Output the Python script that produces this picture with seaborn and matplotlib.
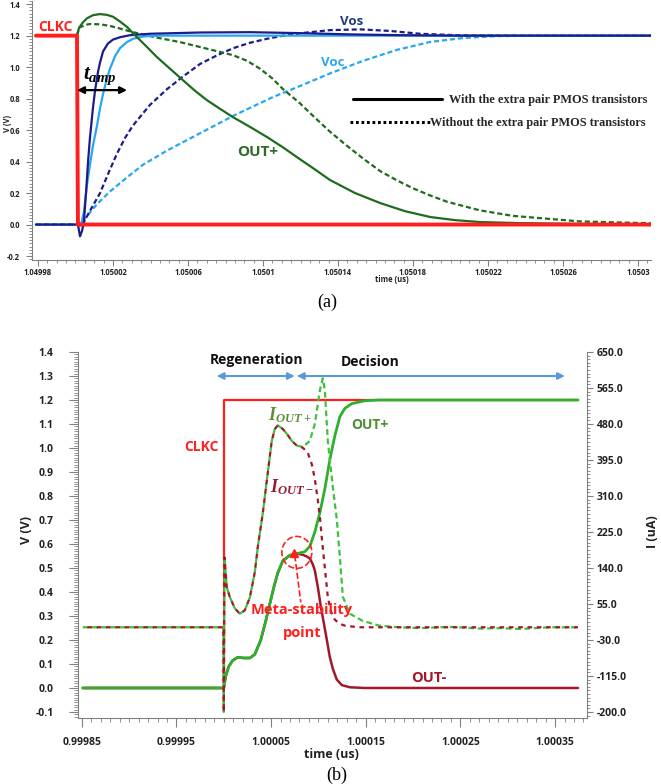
import matplotlib
matplotlib.use('Agg')
import matplotlib.pyplot as plt
import matplotlib.ticker as mticker
from matplotlib.lines import Line2D
from matplotlib.patches import Ellipse
import numpy as np
import pandas as pd
import seaborn as sns

# ---------------- panel (a): time as ps after 1.04998 us, values in V ----------------
BASE_A = 1.04998
clkc_a_ps = [-1.1, 20.8, 21.3, 326.9]
clkc_a_v = [1.2, 1.2, 0.0, 0.0]

outp_a_ps = [20.8, 21.9, 24.0, 26.1, 29.3, 33.1, 36.8, 40.0, 43.7, 47.5, 50.7, 57.1, 63.5, 70.4, 77.3,
             83.7, 90.1, 97.1, 104.0, 113.1, 122.1, 130.7, 139.7, 147.7, 155.7, 169.1, 182.4, 195.7,
             209.1, 222.4, 235.7, 257.1, 289.1, 326.9]
outp_a_v = [1.2, 1.25, 1.285, 1.31, 1.33, 1.337, 1.332, 1.32, 1.29, 1.255, 1.215, 1.14, 1.063, 0.99, 0.917,
            0.85, 0.79, 0.735, 0.682, 0.62, 0.556, 0.49, 0.415, 0.35, 0.283, 0.2, 0.137, 0.085,
            0.048, 0.028, 0.016, 0.009, 0.004, 0.002]

outp_a_nopmos_ps = [20.8, 21.9, 25.1, 27.7, 33.1, 38.4, 43.7, 50.7, 62.4, 75.7, 89.1, 104.0, 111.5, 118.4,
                    124.8, 130.7, 139.7, 146.7, 155.7, 164.8, 173.3, 182.4, 191.5, 200.0, 209.1, 218.1,
                    235.7, 253.3, 289.1, 326.9]
outp_a_nopmos_v = [1.2, 1.25, 1.268, 1.274, 1.272, 1.262, 1.245, 1.222, 1.19, 1.159, 1.12, 1.076, 1.04, 0.99,
                   0.93, 0.86, 0.77, 0.69, 0.59, 0.50, 0.42, 0.34, 0.28, 0.23, 0.185, 0.145,
                   0.09, 0.055, 0.02, 0.008]

vos_a_ps = [-1.1, 21.3, 22.4, 23.5, 24.5, 25.6, 26.7, 27.7, 29.3, 30.4, 32.0, 33.1, 34.7, 37.3, 40.0,
            43.7, 49.1, 59.7, 86.4, 113.1, 139.7, 166.4, 193.1, 225.1, 326.9]
vos_a_v = [0, 0, -0.075, -0.04, 0.02, 0.2, 0.4, 0.55, 0.74, 0.85, 0.97, 1.03, 1.1, 1.15, 1.175,
           1.19, 1.203, 1.212, 1.22, 1.222, 1.216, 1.208, 1.203, 1.2, 1.2]

voc_a_ps = [-1.1, 21.3, 22.9, 24.5, 26.1, 27.7, 29.3, 31.5, 33.1, 34.7, 36.8, 38.4, 41.1, 43.7, 47.5,
            50.7, 56.0, 65.1, 326.9]
voc_a_v = [0, 0, 0.0, 0.08, 0.25, 0.38, 0.5, 0.63, 0.74, 0.83, 0.93, 0.99, 1.07, 1.12, 1.16,
           1.18, 1.195, 1.2, 1.2]

vos_a_nopmos_ps = [-1.1, 21.3, 23.5, 25.1, 28.8, 33.1, 37.3, 42.1, 46.4, 50.7, 59.7, 68.8, 77.3, 86.4,
                   95.5, 104.0, 113.1, 122.1, 130.7, 139.7, 155.7, 171.7, 187.7, 203.7, 225.1, 257.1, 326.9]
vos_a_nopmos_v = [0, 0, -0.01, 0.03, 0.11, 0.2, 0.32, 0.45, 0.55, 0.63, 0.76, 0.86, 0.94, 1.02,
                  1.075, 1.12, 1.155, 1.18, 1.2, 1.215, 1.235, 1.24, 1.23, 1.212, 1.202, 1.2, 1.2]

voc_a_nopmos_ps = [-1.1, 21.3, 25.1, 31.5, 38.4, 47.5, 56.0, 68.8, 86.4, 104.0, 125.3, 139.7, 155.7, 173.3,
                   191.5, 209.1, 226.7, 244.8, 267.7, 326.9]
voc_a_nopmos_v = [0, 0, 0.04, 0.13, 0.21, 0.3, 0.38, 0.47, 0.58, 0.69, 0.81, 0.88, 0.96, 1.04,
                  1.11, 1.16, 1.185, 1.197, 1.2, 1.2]

xticks_a = [1.04998, 1.05002, 1.05006, 1.0501, 1.05014, 1.05018, 1.05022, 1.05026, 1.0503]
xlabels_a = ['1.04998', '1.05002', '1.05006', '1.0501', '1.05014', '1.05018', '1.05022', '1.05026', '1.0503']
yticks_a = [-0.2, 0.0, 0.2, 0.4, 0.6, 0.8, 1.0, 1.2, 1.4]

# ---------------- panel (b): time as ps after 1.0 us, V on left, uA on right ----------------
BASE_B = 1.0
clkc_b_ps = [-149, 0, 0, 374.2]
clkc_b_v = [0, 0, 1.2, 1.2]

outp_b_ps = [-149, 0, 2.1, 5.3, 9.5, 14.8, 21.1, 27.5, 32.8, 39.1, 44.4, 48.6, 52.9, 57.1, 62.4, 69.8,
             77.2, 85.6, 90.9, 96.2, 101.5, 106.8, 112.0, 117.3, 122.6, 127.9, 135.3, 149.0, 164.9, 374.2]
outp_b_v = [0, 0, 0.05, 0.09, 0.115, 0.128, 0.125, 0.125, 0.14, 0.2, 0.28, 0.35, 0.42, 0.48, 0.53, 0.553,
            0.56, 0.568, 0.59, 0.65, 0.73, 0.83, 0.95, 1.05, 1.13, 1.165, 1.185, 1.197, 1.2, 1.2]

outn_b_ps = [-149, 0, 2.1, 5.3, 9.5, 14.8, 21.1, 27.5, 32.8, 39.1, 44.4, 48.6, 52.9, 57.1, 62.4, 69.8,
             77.2, 83.5, 87.7, 90.9, 94.1, 96.2, 99.4, 102.5, 105.7, 108.9, 112.0, 115.2, 119.4, 124.7,
             133.2, 149.0, 374.2]
outn_b_v = [0, 0, 0.05, 0.09, 0.115, 0.128, 0.125, 0.125, 0.14, 0.2, 0.28, 0.35, 0.42, 0.48, 0.53, 0.553,
            0.56, 0.555, 0.548, 0.54, 0.515, 0.49, 0.42, 0.34, 0.27, 0.2, 0.13, 0.08, 0.035, 0.012,
            0.003, 0.0, 0.0]

ioutp_ps = [-149, -0.5, 0, 0.8, 3.2, 6.3, 11.6, 16.9, 22.2, 27.5, 32.8, 35.9, 41.2, 45.5, 50.7, 53.9,
            57.1, 62.4, 66.6, 71.9, 77.2, 83.5, 90.9, 96.2, 101.5, 104.6, 106.8, 109.9, 115.2, 119.4,
            122.6, 125.8, 133.2, 146.9, 163.8, 186.0, 207.2, 238.9, 270.6, 291.7, 312.9, 344.6, 374.2]
ioutp_ua = [0, 0, -200, 165, 95, 72, 45, 32, 40, 70, 130, 189, 269, 347, 440, 468,
            477, 468, 457, 440, 429, 426, 440, 480, 559, 588, 559, 440, 331, 255,
            167, 72, 32, 15, 4, 0, -2, 1, -3, -2, -4, 0, 0]

ioutn_ps = [-149, -0.5, 0, 0.8, 3.2, 6.3, 11.6, 16.9, 22.2, 27.5, 32.8, 35.9, 41.2, 45.5, 50.7, 53.9,
            57.1, 62.4, 66.6, 71.9, 77.2, 83.5, 88.8, 93.0, 96.2, 99.4, 101.5, 103.6, 106.8, 109.9,
            113.1, 117.3, 122.6, 129.0, 143.8, 374.2]
ioutn_ua = [0, 0, -200, 165, 95, 72, 45, 32, 40, 70, 130, 189, 269, 347, 440, 468,
            477, 468, 457, 440, 429, 424, 412, 385, 350, 300, 262, 210, 140, 72,
            38, 18, 8, 3, 0, 0]

xticks_b = [0.99985, 0.99995, 1.00005, 1.00015, 1.00025, 1.00035]
xlabels_b = ['0.99985', '0.99995', '1.00005', '1.00015', '1.00025', '1.00035']
yticks_b = [-0.1, 0.0, 0.1, 0.2, 0.3, 0.4, 0.5, 0.6, 0.7, 0.8, 0.9, 1.0, 1.1, 1.2, 1.3, 1.4]
yticks_b2 = [-200, -115, -30, 55, 140, 225, 310, 395, 480, 565, 650]

RED = '#FF1F1F'
DKGREEN = '#1F6B1F'
NAVY = '#1C1C8C'
LBLUE = '#27A7F2'
GREEN = '#2DB02D'
LGREEN = '#3EC23E'
MAROON = '#A3172B'
BLUE_ARROW = '#5B9BD5'
GRAY = '#808080'

sns.set_theme(style='ticks')
plt.rcParams['font.family'] = ['Open Sans', 'DejaVu Sans']
plt.rcParams['mathtext.fontset'] = 'custom'
plt.rcParams['mathtext.it'] = 'Liberation Serif:italic:bold'
plt.rcParams['mathtext.rm'] = 'Liberation Serif:bold'
plt.rcParams['mathtext.bf'] = 'Liberation Serif:bold'


def ta(ps):
    return BASE_A + ps * 1e-6


def tb(ps):
    return BASE_B + ps * 1e-6


def curve(ax, base, ps, vals, color, lw, ls='-', z=2):
    df = pd.DataFrame({'t': base + np.asarray(ps, dtype=float) * 1e-6, 'v': vals})
    sns.lineplot(data=df, x='t', y='v', ax=ax, color=color, lw=lw, linestyle=ls,
                 estimator=None, sort=False, zorder=z)


def style_axis(ax, labelsize, major_len, minor_len, xpad, ypad):
    ax.tick_params(which='major', length=major_len, width=0.8, color=GRAY, labelsize=labelsize,
                   labelcolor='#222222')
    ax.tick_params(which='minor', length=minor_len, width=0.6, color=GRAY)
    ax.tick_params(axis='x', which='major', pad=xpad)
    ax.tick_params(axis='y', which='major', pad=ypad)
    for s in ax.spines.values():
        s.set_color(GRAY)
        s.set_linewidth(0.8)
    ax.set_xlabel('')
    ax.set_ylabel('')


fig = plt.figure(figsize=(6.61, 7.84), dpi=100)

# ================= panel (a) =================
ax_a = fig.add_axes([0.0484, 0.6684, 0.9365, 0.3303])
dash_a = (0, (2.3, 1.3))
curve(ax_a, BASE_A, voc_a_nopmos_ps, voc_a_nopmos_v, LBLUE, 1.6, dash_a)
curve(ax_a, BASE_A, vos_a_nopmos_ps, vos_a_nopmos_v, NAVY, 1.6, dash_a)
curve(ax_a, BASE_A, outp_a_nopmos_ps, outp_a_nopmos_v, DKGREEN, 1.6, dash_a)
curve(ax_a, BASE_A, voc_a_ps, voc_a_v, LBLUE, 1.6)
curve(ax_a, BASE_A, vos_a_ps, vos_a_v, NAVY, 1.6)
curve(ax_a, BASE_A, outp_a_ps, outp_a_v, DKGREEN, 1.6)
curve(ax_a, BASE_A, clkc_a_ps, clkc_a_v, RED, 2.8, z=3)

ax_a.set_xlim(ta(-3.2), ta(326.9))
ax_a.set_ylim(-0.225, 1.42)
ax_a.xaxis.set_major_locator(mticker.FixedLocator(xticks_a))
ax_a.set_xticklabels(xlabels_a, fontweight='bold')
ax_a.xaxis.set_minor_locator(mticker.AutoMinorLocator(8))
ax_a.yaxis.set_major_locator(mticker.FixedLocator(yticks_a))
ax_a.set_yticklabels([f'{v:.1f}' for v in yticks_a], fontweight='bold')
ax_a.yaxis.set_minor_locator(mticker.AutoMinorLocator(10))
sns.despine(ax=ax_a)
style_axis(ax_a, 5.5, 4, 2, 1.5, 4.5)

ax_a.text(ta(0), 1.254, 'CLKC', color=RED, fontsize=10, fontweight='bold', ha='left', va='center')
ax_a.text(ta(24.0), 0.945, r'$t_{amp}$', color='black', fontsize=15, ha='left', va='center')
ax_a.annotate('', xy=(ta(20.8), 0.854), xytext=(ta(47.5), 0.854),
              arrowprops=dict(arrowstyle='<|-|>', color='black', lw=1.6, mutation_scale=10,
                              shrinkA=0, shrinkB=0))
ax_a.text(ta(167.5), 1.292, 'Vos', color='#1F3A80', fontsize=9.5, fontweight='bold', ha='center', va='center')
ax_a.text(ta(157.3), 1.032, 'Voc', color='#2AA5EE', fontsize=9.5, fontweight='bold', ha='center', va='center')
ax_a.text(ta(117.3), 0.46, 'OUT+', color='#2F6B2A', fontsize=11, fontweight='bold', ha='center', va='center')

# two one-row legends: solid sample is longer and sits apart from its text, dotted one touches its text
leg_font = {'family': 'Liberation Serif', 'weight': 'bold', 'size': 8.8}
leg1 = ax_a.legend([Line2D([], [], color='black', lw=2.2, ls='-')],
                   ['With the extra pair PMOS transistors'],
                   loc='upper left', bbox_to_anchor=(0.518, 0.641), frameon=False, prop=leg_font,
                   handlelength=7.3, handletextpad=0.6, borderpad=0, borderaxespad=0)
ax_a.add_artist(leg1)
ax_a.legend([Line2D([], [], color='black', lw=2.2, ls=(0, (0.9, 0.9)))],
            ['Without the extra pair PMOS transistors'],
            loc='upper left', bbox_to_anchor=(0.514, 0.552), frameon=False, prop=leg_font,
            handlelength=6.5, handletextpad=0.05, borderpad=0, borderaxespad=0)

fig.text(7 / 661, 1 - 123 / 784, 'V (V)', rotation=90, fontsize=5.5, fontweight='bold',
         color='#222222', ha='center', va='center')
fig.text(392 / 661, 1 - 279 / 784, 'time (us)', fontsize=5.5, fontweight='bold',
         color='#222222', ha='center', va='center')
fig.text(327 / 661, 1 - 302 / 784, '(a)', fontsize=13, family='Liberation Serif',
         color='black', ha='center', va='center')

# ================= panel (b) =================
ax_b = fig.add_axes([0.118, 0.0842, 0.770, 0.4668])
ax_b2 = ax_b.twinx()

curve(ax_b, BASE_B, clkc_b_ps, clkc_b_v, RED, 1.6, z=2)
curve(ax_b, BASE_B, outn_b_ps, outn_b_v, MAROON, 1.8, z=3)
curve(ax_b, BASE_B, outp_b_ps, outp_b_v, GREEN, 2.0, z=4)

curve(ax_b2, BASE_B, ioutp_ps, ioutp_ua, LGREEN, 1.6, (0, (2.6, 1.6)), z=2)
curve(ax_b2, BASE_B, ioutn_ps, ioutn_ua, MAROON, 1.6, (2.1, (2.1, 2.1)), z=3)

ax_b.set_xlim(tb(-154), tb(383.7))
ax_b.set_ylim(-0.125, 1.4)
ax_b2.set_ylim(-214.2, 650)
ax_b.xaxis.set_major_locator(mticker.FixedLocator(xticks_b))
ax_b.set_xticklabels(xlabels_b, fontweight='bold')
ax_b.xaxis.set_minor_locator(mticker.AutoMinorLocator(10))
ax_b.yaxis.set_major_locator(mticker.FixedLocator(yticks_b))
ax_b.set_yticklabels([f'{v:.1f}' for v in yticks_b], fontweight='bold')
ax_b.yaxis.set_minor_locator(mticker.AutoMinorLocator(10))
ax_b2.yaxis.set_major_locator(mticker.FixedLocator(yticks_b2))
ax_b2.set_yticklabels([f'{v:.1f}' for v in yticks_b2], fontweight='bold')
ax_b2.yaxis.set_minor_locator(mticker.AutoMinorLocator(10))
for a in (ax_b, ax_b2):
    a.spines['top'].set_visible(False)
style_axis(ax_b, 7.5, 6.5, 3, 7, 11)
style_axis(ax_b2, 7.5, 4.5, 2.5, 7, 2.5)
ax_b.spines['right'].set_visible(False)
ax_b2.spines['left'].set_visible(False)
ax_b2.spines['bottom'].set_visible(False)

T = ax_b.transData
ax_b2.text(tb(34.9), 1.365, 'Regeneration', transform=T, fontsize=10, fontweight='bold',
           color='#111111', ha='center', va='center')
ax_b2.text(tb(154.3), 1.357, 'Decision', transform=T, fontsize=10, fontweight='bold',
           color='#111111', ha='center', va='center')
ax_b.annotate('', xy=(tb(-7.4), 1.3), xytext=(tb(75.0), 1.3),
              arrowprops=dict(arrowstyle='<|-|>', color=BLUE_ARROW, lw=1.5, mutation_scale=10,
                              shrinkA=0, shrinkB=0))
ax_b.annotate('', xy=(tb(77.2), 1.3), xytext=(tb(360.4), 1.3),
              arrowprops=dict(arrowstyle='<|-|>', color=BLUE_ARROW, lw=1.5, mutation_scale=10,
                              shrinkA=0, shrinkB=0))
ax_b2.text(tb(-23.3), 1.003, 'CLKC', transform=T, color=RED, fontsize=10, fontweight='bold',
           ha='center', va='center')
ax_b2.text(tb(69.8), 1.136, r'$I_{OUT+}$', transform=T, color='#5C8F3A', fontsize=13,
           ha='center', va='center')
ax_b2.text(tb(71.9), 0.836, r'$I_{OUT-}$', transform=T, color='#9A1B33', fontsize=13,
           ha='center', va='center')
ax_b2.text(tb(154.3), 1.095, 'OUT+', transform=T, color='#4F8F33', fontsize=10, fontweight='bold',
           ha='center', va='center')
ax_b2.text(tb(216.7), 0.04, 'OUT-', transform=T, color=MAROON, fontsize=10.5, fontweight='bold',
           ha='center', va='center')
ax_b2.text(tb(82.4), 0.323, 'Meta-stability', transform=T, color=RED, fontsize=10.5, fontweight='bold',
           ha='center', va='center', zorder=6)
ax_b2.text(tb(82.4), 0.231, 'point', transform=T, color=RED, fontsize=10.5, fontweight='bold',
           ha='center', va='center', zorder=6)
ax_b2.add_patch(Ellipse((tb(77.2), 0.565), width=31.7e-6, height=0.133, transform=T, fill=False,
                        ec=RED, ls='--', lw=1.2, zorder=6))
ax_b2.plot([tb(75.0), tb(81.4)], [0.553, 0.357], transform=T, color=RED, ls='--', lw=1.2, zorder=6)
ax_b2.plot([tb(74.0)], [0.561], transform=T, marker='^', color=RED, ms=6, zorder=7)

fig.text(27 / 661, 1 - 530 / 784, 'V (V)', rotation=90, fontsize=9, fontweight='bold',
         color='#222222', ha='center', va='center')
fig.text(653 / 661, 1 - 532 / 784, 'I (uA)', rotation=90, fontsize=9, fontweight='bold',
         color='#222222', ha='center', va='center')
fig.text(331 / 661, 1 - 755 / 784, 'time (us)', fontsize=9, fontweight='bold',
         color='#222222', ha='center', va='center')
fig.text(337 / 661, 1 - 775 / 784, '(b)', fontsize=13, family='Liberation Serif',
         color='black', ha='center', va='center')

fig.savefig('out.png', dpi=100, facecolor='white')
